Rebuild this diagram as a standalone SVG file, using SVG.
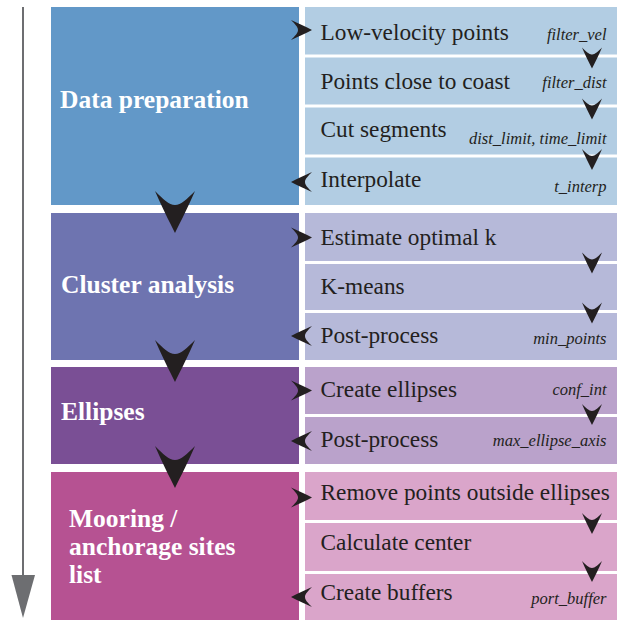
<svg xmlns="http://www.w3.org/2000/svg" xmlns:xlink="http://www.w3.org/1999/xlink" width="617" height="622" viewBox="0 0 617 622">
<style>
.step{font-family:"Liberation Serif","Times New Roman",serif;font-size:23.3px;fill:#231f20}
.par{font-family:"Liberation Serif","Times New Roman",serif;font-size:16.5px;font-style:italic;fill:#231f20;text-anchor:end}
.title{font-family:"Liberation Serif","Times New Roman",serif;font-size:25.5px;font-weight:bold;fill:#ffffff}
.ah{fill:#231f20}
</style>
<defs>
<path id="ah" d="M0,0 C-6,-3 -14,-7 -21,-10 C-17,-6 -14,-3 -14,0 C-14,3 -17,6 -21,10 C-14,7 -6,3 0,0 Z"/>
</defs>
<rect width="617" height="622" fill="#ffffff"/>
<g id="timeline">
<line x1="23" y1="7" x2="23" y2="577" stroke="#6d6e71" stroke-width="2"/>
<polygon points="11.5,575 35,575 23,618" fill="#6d6e71"/>
</g>
<g id="data-preparation">
<rect x="51" y="7" width="248" height="198" fill="#6298c8"/>
<text class="title" x="60" y="108">Data preparation</text>
</g>
<g id="low-velocity">
<rect x="305" y="7" width="312" height="47.5" fill="#b2cde3"/>
<text class="step" x="320.5" y="40">Low-velocity points</text>
<text class="par" x="606.5" y="40">filter_vel</text>
</g>
<g id="close-to-coast">
<rect x="305" y="57.5" width="312" height="47" fill="#b2cde3"/>
<text class="step" x="320.5" y="88.5">Points close to coast</text>
<text class="par" x="606.5" y="87.5">filter_dist</text>
</g>
<g id="cut-segments">
<rect x="305" y="107.5" width="312" height="47" fill="#b2cde3"/>
<text class="step" x="320.5" y="137">Cut segments</text>
<text class="par" x="606.5" y="143.5">dist_limit, time_limit</text>
</g>
<g id="interpolate">
<rect x="305" y="157.5" width="312" height="47.5" fill="#b2cde3"/>
<text class="step" x="320.5" y="187">Interpolate</text>
<text class="par" x="606.5" y="192">t_interp</text>
</g>
<g id="cluster-analysis">
<rect x="51" y="213" width="248" height="147" fill="#6e74b0"/>
<text class="title" x="61" y="293">Cluster analysis</text>
</g>
<g id="estimate-k">
<rect x="305" y="213" width="312" height="48" fill="#b6b9d9"/>
<text class="step" x="320.5" y="245">Estimate optimal k</text>
</g>
<g id="k-means">
<rect x="305" y="264" width="312" height="46" fill="#b6b9d9"/>
<text class="step" x="320.5" y="294">K-means</text>
</g>
<g id="post-process-1">
<rect x="305" y="313" width="312" height="47" fill="#b6b9d9"/>
<text class="step" x="320.5" y="343">Post-process</text>
<text class="par" x="606.5" y="343.5">min_points</text>
</g>
<g id="ellipses">
<rect x="51" y="367" width="248" height="97" fill="#7a4f95"/>
<text class="title" x="61" y="420">Ellipses</text>
</g>
<g id="create-ellipses">
<rect x="305" y="367" width="312" height="47" fill="#baa2cb"/>
<text class="step" x="320.5" y="397">Create ellipses</text>
<text class="par" x="606.5" y="395">conf_int</text>
</g>
<g id="post-process-2">
<rect x="305" y="417" width="312" height="47" fill="#baa2cb"/>
<text class="step" x="320.5" y="447">Post-process</text>
<text class="par" x="606.5" y="446">max_ellipse_axis</text>
</g>
<g id="mooring-sites">
<rect x="51" y="472" width="248" height="148" fill="#b65292"/>
<text class="title" x="69" y="527">Mooring /</text>
<text class="title" x="69" y="555">anchorage sites</text>
<text class="title" x="69" y="583">list</text>
</g>
<g id="remove-points">
<rect x="305" y="472" width="312" height="48" fill="#daa5ca"/>
<text class="step" x="320.5" y="500">Remove points outside ellipses</text>
</g>
<g id="calculate-center">
<rect x="305" y="523" width="312" height="48" fill="#daa5ca"/>
<text class="step" x="320.5" y="550">Calculate center</text>
</g>
<g id="create-buffers">
<rect x="305" y="574" width="312" height="46" fill="#daa5ca"/>
<text class="step" x="320.5" y="599.5">Create buffers</text>
<text class="par" x="606.5" y="603.5">port_buffer</text>
</g>
<g id="connectors" class="ah">
<use xlink:href="#ah" transform="translate(175,233) rotate(90) scale(2)"/>
<use xlink:href="#ah" transform="translate(175,382) rotate(90) scale(2)"/>
<use xlink:href="#ah" transform="translate(175,488) rotate(90) scale(2)"/>
<use xlink:href="#ah" transform="translate(312,30)"/>
<use xlink:href="#ah" transform="translate(291,182) rotate(180)"/>
<use xlink:href="#ah" transform="translate(312,237.5)"/>
<use xlink:href="#ah" transform="translate(291,336) rotate(180)"/>
<use xlink:href="#ah" transform="translate(312,390.5)"/>
<use xlink:href="#ah" transform="translate(291,441) rotate(180)"/>
<use xlink:href="#ah" transform="translate(312,497.5)"/>
<use xlink:href="#ah" transform="translate(291,597) rotate(180)"/>
<use xlink:href="#ah" transform="translate(592,68.5) rotate(90)"/>
<use xlink:href="#ah" transform="translate(592,119.5) rotate(90)"/>
<use xlink:href="#ah" transform="translate(592,170) rotate(90)"/>
<use xlink:href="#ah" transform="translate(592,273.5) rotate(90)"/>
<use xlink:href="#ah" transform="translate(592,323.5) rotate(90)"/>
<use xlink:href="#ah" transform="translate(592,425) rotate(90)"/>
<use xlink:href="#ah" transform="translate(592,534) rotate(90)"/>
<use xlink:href="#ah" transform="translate(592,582) rotate(90)"/>
</g>
</svg>
